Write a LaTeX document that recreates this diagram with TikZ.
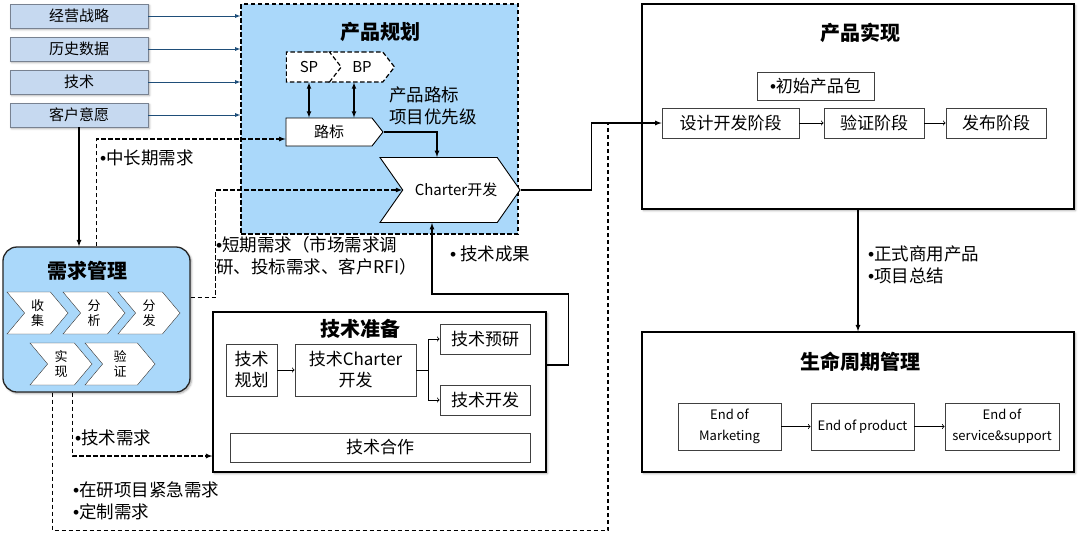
\documentclass[tikz,border=0pt]{standalone}
\usepackage{fontspec}
\setmainfont{Noto Sans CJK SC}
\newfontfamily\bulfont{Liberation Sans}
\newcommand{\bul}{{\bulfont •}}
\definecolor{skyblue}{RGB}{170,216,250}
\definecolor{inputblue}{RGB}{198,217,240}
\definecolor{inputgray}{RGB}{120,130,145}
\definecolor{arrowblue}{RGB}{31,78,121}
\usetikzlibrary{shapes,arrows,positioning,calc,shadows.blur}

\tikzset{
  boxshadow/.style={blur shadow={shadow xshift=1.5pt,shadow yshift=-1.5pt,shadow blur radius=2pt,shadow opacity=35}},
  inputbox/.style={draw=inputgray, fill=inputblue, minimum width=138pt, minimum height=24pt, inner sep=0pt, font=\fontsize{15}{17}\selectfont, boxshadow},
  bigbox/.style={draw=black, line width=1.3pt, fill=white, inner sep=0pt, boxshadow},
  plainbox/.style={draw=black!75, line width=0.8pt, fill=white, inner sep=2pt, align=center, font=\fontsize{17}{21}\selectfont},
  eolbox/.style={draw=black!75, line width=0.8pt, fill=white, minimum height=47pt, inner sep=0pt, align=center, font=\fontsize{13}{21}\selectfont},
  boxtitle/.style={font=\fontsize{20}{23}\selectfont\bfseries},
  chevron/.style={signal, signal from=west, signal to=east, signal pointer angle=100, draw=black!80, fill=white, minimum height=42pt, inner sep=0pt, align=center, font=\fontsize{13}{15}\selectfont},
  arrowbox/.style={signal, signal to=east, signal pointer angle=104, draw=black, line width=0.9pt, fill=white, inner sep=0pt, font=\fontsize{15}{17}\selectfont},
  dashline/.style={dash pattern=on 4.5pt off 2.5pt, line width=1.2pt},
  note/.style={font=\fontsize{17.5}{22}\selectfont, align=left, inner sep=0pt, anchor=west},
  thin/.style={line width=0.8pt, ->},
  thick/.style={line width=1.2pt, -latex}
}

\begin{document}
\begin{tikzpicture}[x=1pt, y=-1pt]
\useasboundingbox (0,0) rectangle (1080,539);

% inputs
\node[inputbox] (strat) at (79,16) {经营战略};
\node[inputbox] (hist) at (79,49) {历史数据};
\node[inputbox] (tech) at (79,82) {技术};
\node[inputbox] (cust) at (79,115) {客户意愿};

% product planning
\node[draw, dashline, fill=skyblue, minimum width=277pt, minimum height=230pt, inner sep=0pt] (plan) at (379.5,119) {};
\node[boxtitle] (planTitle) at (380,32) {产品规划};
\node[arrowbox, dashline, minimum width=57pt, minimum height=30pt] (sp) at (309,67) {SP};
\node[arrowbox, dashline, signal from=west, minimum width=65pt, minimum height=30pt] (bp) at (362,67) {BP};
\node[arrowbox, minimum width=97pt, minimum height=28pt] (roadmap) at (329,132) {路标};
\node[arrowbox, signal from=west, signal pointer angle=110, minimum width=136pt, minimum height=65pt] (charter) at (450,190) {\hspace{12pt}Charter开发};
\node[note] (planNote) at (389,106) {产品路标\\项目优先级};

% requirement management
\node[draw=black!85, line width=1.3pt, fill=skyblue, rounded corners=14pt, minimum width=187pt, minimum height=145pt, inner sep=0pt, boxshadow] (req) at (96.5,319.5) {};
\node[boxtitle] (reqTitle) at (87,271) {需求管理};
\node[chevron, minimum width=61pt] (collect) at (37.5,313) {收\\集};
\node[chevron, minimum width=62pt] (analyse) at (94,313) {分\\析};
\node[chevron, minimum width=62pt] (distr) at (149,313) {分\\发};
\node[chevron, minimum width=62pt] (impl) at (61,364) {实\\现};
\node[chevron, minimum width=70pt] (verify) at (120,364) {验\\证};

% technology preparation
\node[bigbox, minimum width=333pt, minimum height=160pt] (prep) at (379.5,392) {};
\node[boxtitle] (prepTitle) at (360,329) {技术准备};
\node[plainbox, minimum width=51pt, minimum height=52pt] (tplan) at (251.5,370) {技术\\规划};
\node[plainbox, minimum width=121pt, minimum height=52pt] (tcharter) at (355.5,370) {技术Charter\\开发};
\node[plainbox, minimum width=90pt, minimum height=30pt] (tresearch) at (485,339) {技术预研};
\node[plainbox, minimum width=90pt, minimum height=30pt] (tdev) at (485,400) {技术开发};
\node[plainbox, minimum width=300pt, minimum height=29pt] (tcoop) at (380,447.5) {技术合作};

% product realization
\node[bigbox, minimum width=432pt, minimum height=205pt] (real) at (858,106.5) {};
\node[boxtitle] (realTitle) at (860,33) {产品实现};
\node[plainbox, minimum width=117pt, minimum height=28pt] (pkg) at (815.5,86) {\bul 初始产品包};
\node[plainbox, minimum width=137pt, minimum height=30pt] (design) at (730.5,123) {设计开发阶段};
\node[plainbox, minimum width=100pt, minimum height=30pt] (valid) at (874,123) {验证阶段};
\node[plainbox, minimum width=100pt, minimum height=30pt] (release) at (996,123) {发布阶段};

% lifecycle management
\node[bigbox, minimum width=432pt, minimum height=140pt] (life) at (858,402) {};
\node[boxtitle] (lifeTitle) at (860,362) {生命周期管理};
\node[eolbox, minimum width=103pt] (eom) at (729.5,426.5) {End of\\Marketing};
\node[eolbox, minimum width=103pt] (eop) at (862.5,426.5) {End of product};
\node[eolbox, minimum width=114pt] (eos) at (1002,426.5) {End of\\service\&support};

% labels
\node[note] (midNote) at (100,158) {\bul 中长期需求};
\node[note] (shortNote) at (216,256) {\bul 短期需求（市场需求调\\研、投标需求、客户RFI）};
\node[note] (resultNote) at (450,254) {\bul\ 技术成果};
\node[note] (techNote) at (75,438) {\bul 技术需求};
\node[note] (urgentNote) at (73,501) {\bul 在研项目紧急需求\\\bul 定制需求};
\node[note] (launchNote) at (868,265) {\bul 正式商用产品\\\bul 项目总结};

\coordinate (merge) at (608,124);

% connectors
\foreach \n in {strat,hist,tech,cust}
  \draw[arrowblue, line width=0.8pt, -latex] (\n.east) -- (\n.east -| plan.west);
\draw[line width=1.1pt, latex-latex] (sp.south) -- (sp.south |- roadmap.north);
\draw[line width=1.1pt, latex-latex] ([xshift=-8pt]bp.south) -- ([xshift=-8pt]bp.south |- roadmap.north);
\draw[thick] (roadmap.east) -| ([xshift=-13pt]charter.north);
\draw[thick] (charter.east) -- ++(71,0) |- (design.west);
\draw[thick] (cust.south) -- (cust.south |- req.north);
\draw[dashline, -latex] (req.north) |- ([yshift=-7pt]roadmap.west);
\draw[dashline, -latex] ([yshift=22pt]req.east) -- ++(25,0) |- (charter.west);
\draw[dashline, -latex] ([xshift=-24pt]req.south) |- ([yshift=-64pt]prep.west);
\draw[dashline] ([xshift=-44pt]req.south) -- ++(0,138) -| (merge);
\draw[thick] ([yshift=27pt]prep.east) -- ++(22,0) -- ++(0,-71) -| ([xshift=-18pt]charter.south);
\draw[thin] (tplan) -- (tcharter);
\draw[thin] (tcharter.east) -- ++(12,0) |- (tresearch.west);
\draw[thin] (tcharter.east) -- ++(12,0) |- (tdev.west);
\draw[thin] (design) -- (valid);
\draw[thin] (valid) -- (release);
\draw[thick] (real.south) -- (life.north);
\draw[thin] (eom) -- (eop);
\draw[thin] (eop) -- (eos);
\end{tikzpicture}
\end{document}
